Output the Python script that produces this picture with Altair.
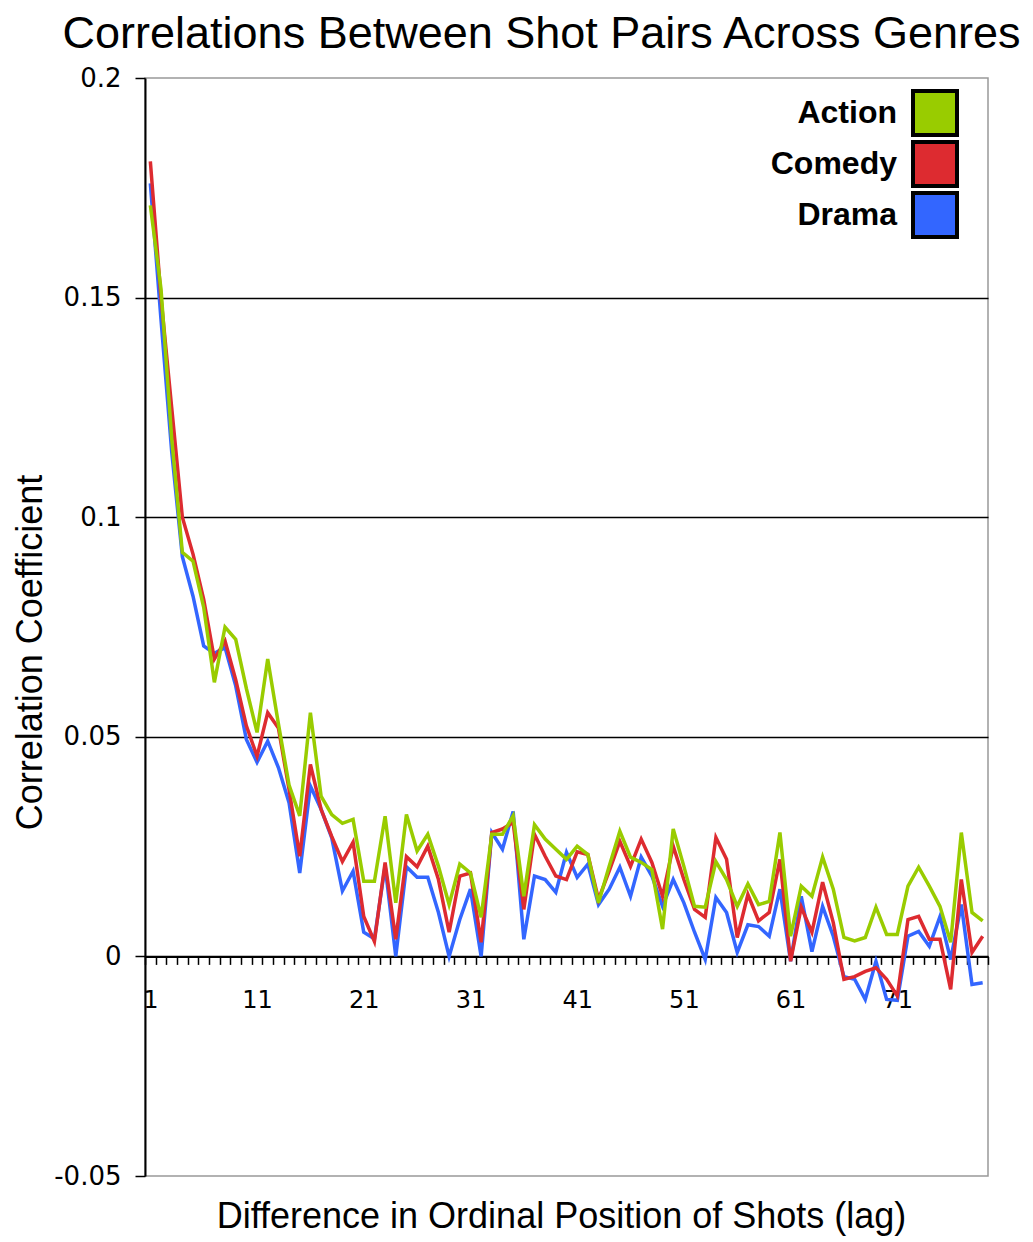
import altair as alt
import pandas as pd

lags = list(range(1, 80))
genres = ["Action", "Comedy", "Drama"]
colors = ["#99cc00", "#dd2b30", "#3366ff"]

action = [0.171, 0.152, 0.118, 0.092, 0.090, 0.0795, 0.0624, 0.075, 0.0722, 0.061,
          0.051, 0.0677, 0.053, 0.039, 0.032, 0.0555, 0.0365, 0.0323, 0.0303, 0.0312,
          0.0171, 0.0171, 0.0319, 0.0122, 0.0323, 0.024, 0.0278, 0.0205, 0.0118, 0.021,
          0.019, 0.0089, 0.0278, 0.0278, 0.032, 0.0137, 0.030, 0.0267, 0.0244, 0.0221,
          0.0251, 0.0232, 0.0122, 0.0205, 0.0285, 0.0226, 0.0214, 0.0198, 0.0062, 0.029,
          0.0205, 0.0114, 0.0112, 0.0216, 0.0175, 0.0114, 0.0165, 0.0118, 0.0125, 0.0282,
          0.0046, 0.016, 0.0137, 0.0226, 0.0153, 0.0043, 0.0035, 0.0043, 0.0112, 0.005,
          0.005, 0.016, 0.0203, 0.016, 0.0114, 0.0032, 0.0282, 0.01, 0.0081]

comedy = [0.181, 0.150, 0.125, 0.100, 0.0916, 0.0813, 0.0677, 0.0718, 0.063, 0.0525,
          0.0456, 0.0555, 0.052, 0.038, 0.0228, 0.0437, 0.0335, 0.0273, 0.0216, 0.026,
          0.0091, 0.0034, 0.0214, 0.0039, 0.0227, 0.0204, 0.0251, 0.0175, 0.0055, 0.0183,
          0.019, 0.0032, 0.0282, 0.029, 0.0305, 0.0107, 0.0278, 0.0228, 0.0183, 0.0175,
          0.0238, 0.0232, 0.013, 0.0194, 0.0262, 0.0205, 0.0267, 0.0214, 0.0137, 0.0251,
          0.0175, 0.0107, 0.0089, 0.0271, 0.0221, 0.0043, 0.0141, 0.0081, 0.01, 0.0221,
          -0.0011, 0.0112, 0.0055, 0.0169, 0.0077, -0.0052, -0.0046, -0.0034, -0.0026, -0.0052,
          -0.009, 0.0084, 0.0091, 0.0039, 0.0039, -0.0075, 0.0175, 0.0009, 0.0046]

drama = [0.176, 0.145, 0.115, 0.091, 0.082, 0.0707, 0.069, 0.0703, 0.0616, 0.0494,
         0.0442, 0.049, 0.043, 0.035, 0.019, 0.0388, 0.0335, 0.027, 0.0149, 0.0194,
         0.0055, 0.004, 0.0206, 0.0, 0.0204, 0.018, 0.018, 0.01, 0.0, 0.0084,
         0.0153, 0.0, 0.0282, 0.0244, 0.033, 0.0039, 0.0183, 0.0175, 0.0146, 0.0237,
         0.018, 0.021, 0.0118, 0.0153, 0.0203, 0.0137, 0.0226, 0.0183, 0.0114, 0.0175,
         0.0122, 0.0055, -0.0007, 0.0134, 0.01, 0.0009, 0.0072, 0.0068, 0.0046, 0.0153,
         -0.0011, 0.0137, 0.0011, 0.0114, 0.0046, -0.0046, -0.0052, -0.0098, -0.0011, -0.0098,
         -0.01, 0.0046, 0.0057, 0.0023, 0.0091, -0.0007, 0.0118, -0.0064, -0.006]

y_ticks = [-0.05, 0, 0.05, 0.1, 0.15, 0.2]

rows = []
for g, vals in zip(genres, [action, comedy, drama]):
    for l, v in zip(lags, vals):
        rows.append({"lag": l, "genre": g, "r": v})
df = pd.DataFrame(rows)
legend_df = pd.DataFrame({"genre": genres})

PLOT_W, PLOT_H = 843, 1098

x_enc = alt.X(
    "lag:O",
    scale=alt.Scale(type="band", paddingInner=0, paddingOuter=0, domain=lags),
    axis=alt.Axis(
        labelExpr="(datum.value - 1) % 10 == 0 ? datum.label : ''",
        labelAngle=0,
        labelOverlap=False,
        tickBand="extent",
        tickSize=8,
        tickColor="black",
        tickWidth=1.5,
        domainColor="black",
        domainWidth=2,
        offset=-PLOT_H * 0.2,
        grid=False,
        labelFont="DejaVu Sans",
        labelFontSize=24,
        labelColor="black",
        labelPadding=24,
        title="Difference in Ordinal Position of Shots (lag)",
        titleFont="Liberation Sans",
        titleFontSize=36,
        titleFontWeight="normal",
        titleColor="black",
        titleBaseline="middle",
        titleX=416,
        titleY=260,
    ),
)

y_enc = alt.Y(
    "r:Q",
    scale=alt.Scale(domain=[-0.05, 0.2], nice=False, zero=False),
    axis=alt.Axis(
        values=y_ticks,
        labelExpr="datum.value + ''",
        grid=True,
        gridColor={"condition": {"test": "datum.value >= 0.2 || datum.value <= -0.05",
                                 "value": "transparent"}, "value": "black"},
        gridWidth=1.5,
        domainColor="black",
        domainWidth=2,
        tickSize=10,
        tickColor="black",
        tickWidth=1.5,
        labelFont="DejaVu Sans",
        labelFontSize=26,
        labelColor="black",
        labelPadding=14,
        title="Correlation Coefficient",
        titleFont="Liberation Sans",
        titleFontSize=36,
        titleFontWeight="normal",
        titleColor="black",
        titleAngle=270,
        titleAlign="center",
        titleBaseline="middle",
        titleX=-115,
        titleY=574,
    ),
)

base = alt.Chart(df).encode(x=x_enc, y=y_enc)

color_scale = alt.Scale(domain=genres, range=colors)

line_layers = []
for g in ["Drama", "Comedy", "Action"]:
    line_layers.append(
        base.mark_line(strokeWidth=3.5)
        .encode(stroke=alt.Stroke("genre:N", scale=color_scale, legend=None))
        .transform_filter(alt.datum.genre == g)
    )
lines = alt.layer(*line_layers)

# custom legend: labels on the left, filled squares on the right
leg_y = alt.Y("genre:N", scale=alt.Scale(type="point", domain=genres, range=[35, 137], padding=0), axis=None)
legend_boxes = alt.Chart(legend_df).mark_square(
    size=1936, filled=True, opacity=1, stroke="black", strokeWidth=4
).encode(
    x=alt.value(790),
    y=leg_y,
    fill=alt.Fill("genre:N", scale=color_scale, legend=None),
)
legend_text = alt.Chart(legend_df).mark_text(
    align="right", baseline="middle", font="Liberation Sans", fontSize=32,
    fontWeight="bold", color="black",
).encode(
    x=alt.value(752),
    y=leg_y,
    text="genre:N",
)
legend = alt.layer(legend_boxes, legend_text)

chart = (
    alt.layer(lines, legend)
    .resolve_scale(y="independent")
    .properties(
        width=PLOT_W,
        height=PLOT_H,
        autosize=alt.AutoSizeParams(type="none"),
        padding={"left": 137, "top": 70, "right": 37, "bottom": 64},
        title=alt.TitleParams(
            "Correlations Between Shot Pairs Across Genres",
            font="Liberation Sans",
            fontSize=45,
            fontWeight="normal",
            color="black",
            anchor="middle",
            frame="group",
            baseline="alphabetic",
            offset=34,
            dx=-25,
            dy=62,
        ),
        background="white",
    )
    .configure_view(stroke="#999999", strokeWidth=1.5, fill="white")
)

chart.save("out.html", embed_options={"renderer": "svg", "actions": False})
